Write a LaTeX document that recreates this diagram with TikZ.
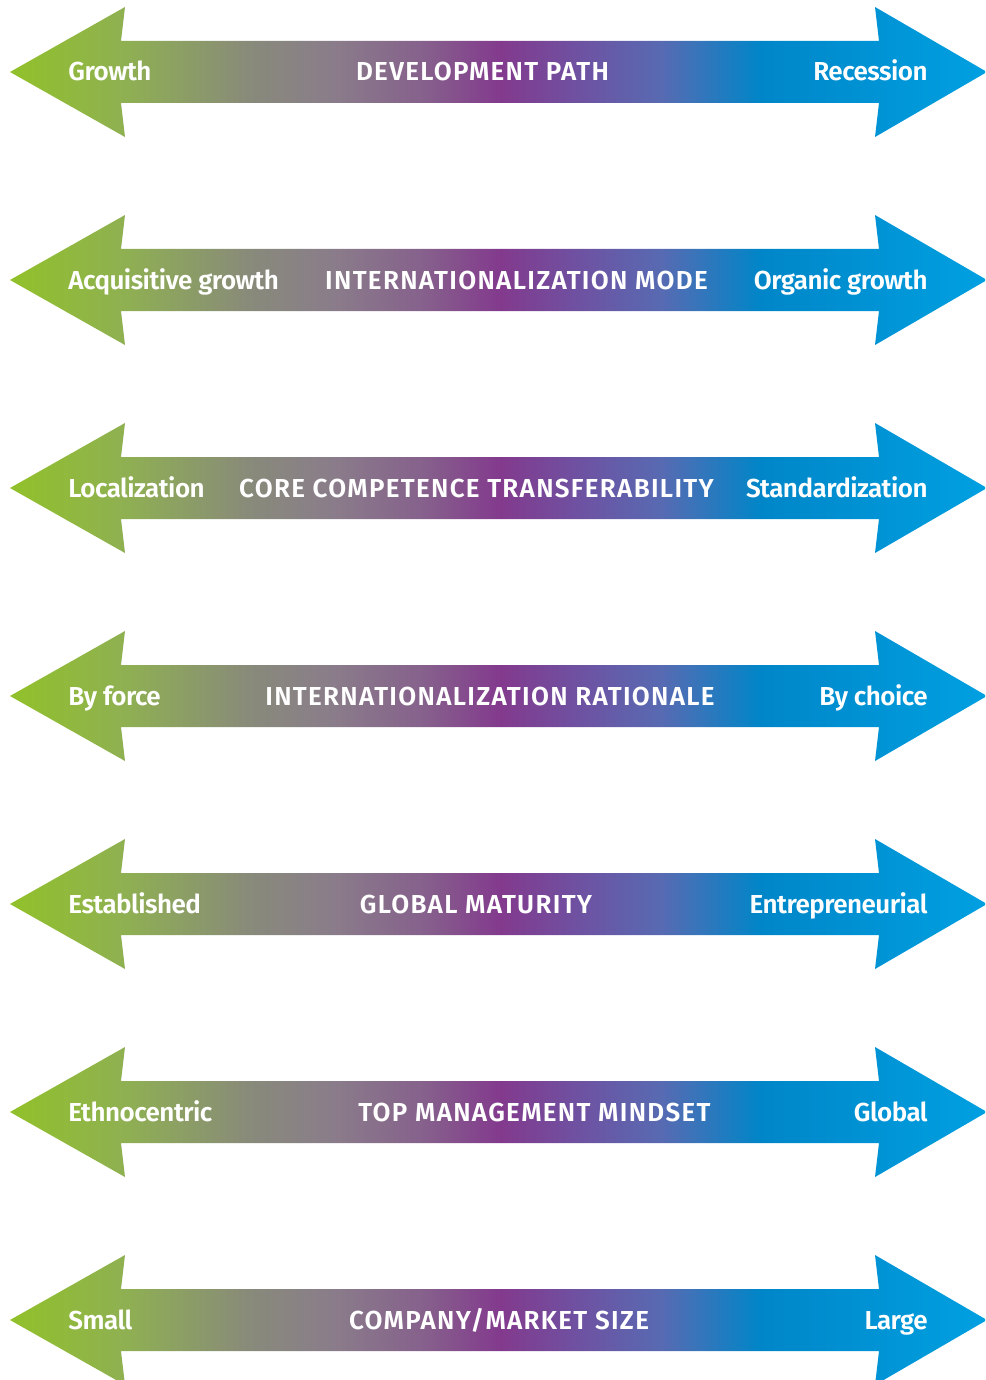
\documentclass[tikz,border=0pt]{standalone}
\usepackage{fontspec}
\setmainfont{Fira Sans}
\newfontfamily\scalefont{Fira Sans SemiBold}
\usetikzlibrary{positioning}
\definecolor{shadeGreen}{RGB}{145,193,42}
\definecolor{shadeOlive}{RGB}{143,176,82}
\definecolor{shadeGrey}{RGB}{136,138,122}
\definecolor{shadeMauve}{RGB}{138,125,138}
\definecolor{shadePlum}{RGB}{134,98,140}
\definecolor{shadePurple}{RGB}{131,58,141}
\definecolor{shadeViolet}{RGB}{110,82,162}
\definecolor{shadeSteel}{RGB}{88,106,178}
\definecolor{shadeBlue}{RGB}{0,134,200}
\definecolor{shadeSky}{RGB}{0,160,225}
\pgfdeclarehorizontalshading{scaleShade}{100bp}{color(0bp)=(shadeGreen); color(25bp)=(shadeGreen); color(30.9bp)=(shadeOlive); color(37.3bp)=(shadeGrey); color(41.4bp)=(shadeMauve); color(46bp)=(shadePlum); color(50.1bp)=(shadePurple); color(54.2bp)=(shadeViolet); color(58.3bp)=(shadeSteel); color(63.4bp)=(shadeBlue); color(75bp)=(shadeSky); color(100bp)=(shadeSky)}

\begin{document}
\begin{tikzpicture}[x=0.5pt, y=-0.5pt,
    endtext/.style={text=white, inner sep=0pt, font=\scalefont\fontsize{13}{15}\selectfont\addfontfeature{LetterSpace=-2}},
    titletext/.style={endtext, anchor=base, font=\scalefont\fontsize{13}{15}\selectfont\addfontfeature{LetterSpace=5}}]
    \useasboundingbox (0,0) rectangle (985,1380);
    \clip (0,0) rectangle (985,1380);

    % one double arrow per row: centre / left / title / title x / right
    \foreach \c/\l/\m/\mx/\r [count=\i] in {
        72/Growth/DEVELOPMENT PATH/482.5/Recession,
        280/Acquisitive growth/INTERNATIONALIZATION MODE/516.5/Organic growth,
        488/Localization/CORE COMPETENCE TRANSFERABILITY/476.5/Standardization,
        696/By force/INTERNATIONALIZATION RATIONALE/490/By choice,
        904/Established/GLOBAL MATURITY/476/Entrepreneurial,
        1112/Ethnocentric/TOP MANAGEMENT MINDSET/534.5/Global,
        1320/Small/{COMPANY/MARKET SIZE}/499/Large}{
        \shade[shading=scaleShade] (10,\c) -- (125,\c-65) -- (121,\c-31)
            -- (879,\c-31) -- (875,\c-65) -- (987,\c) -- (875,\c+65)
            -- (879,\c+31) -- (121,\c+31) -- (125,\c+65) -- cycle;
        \node[endtext, anchor=base west] (left\i) at (68,\c+9) {\l};
        \node[titletext] (title\i) at (\mx,\c+9) {\m};
        \node[endtext, anchor=base east] (right\i) at (928,\c+9) {\r};
    }
\end{tikzpicture}
\end{document}
